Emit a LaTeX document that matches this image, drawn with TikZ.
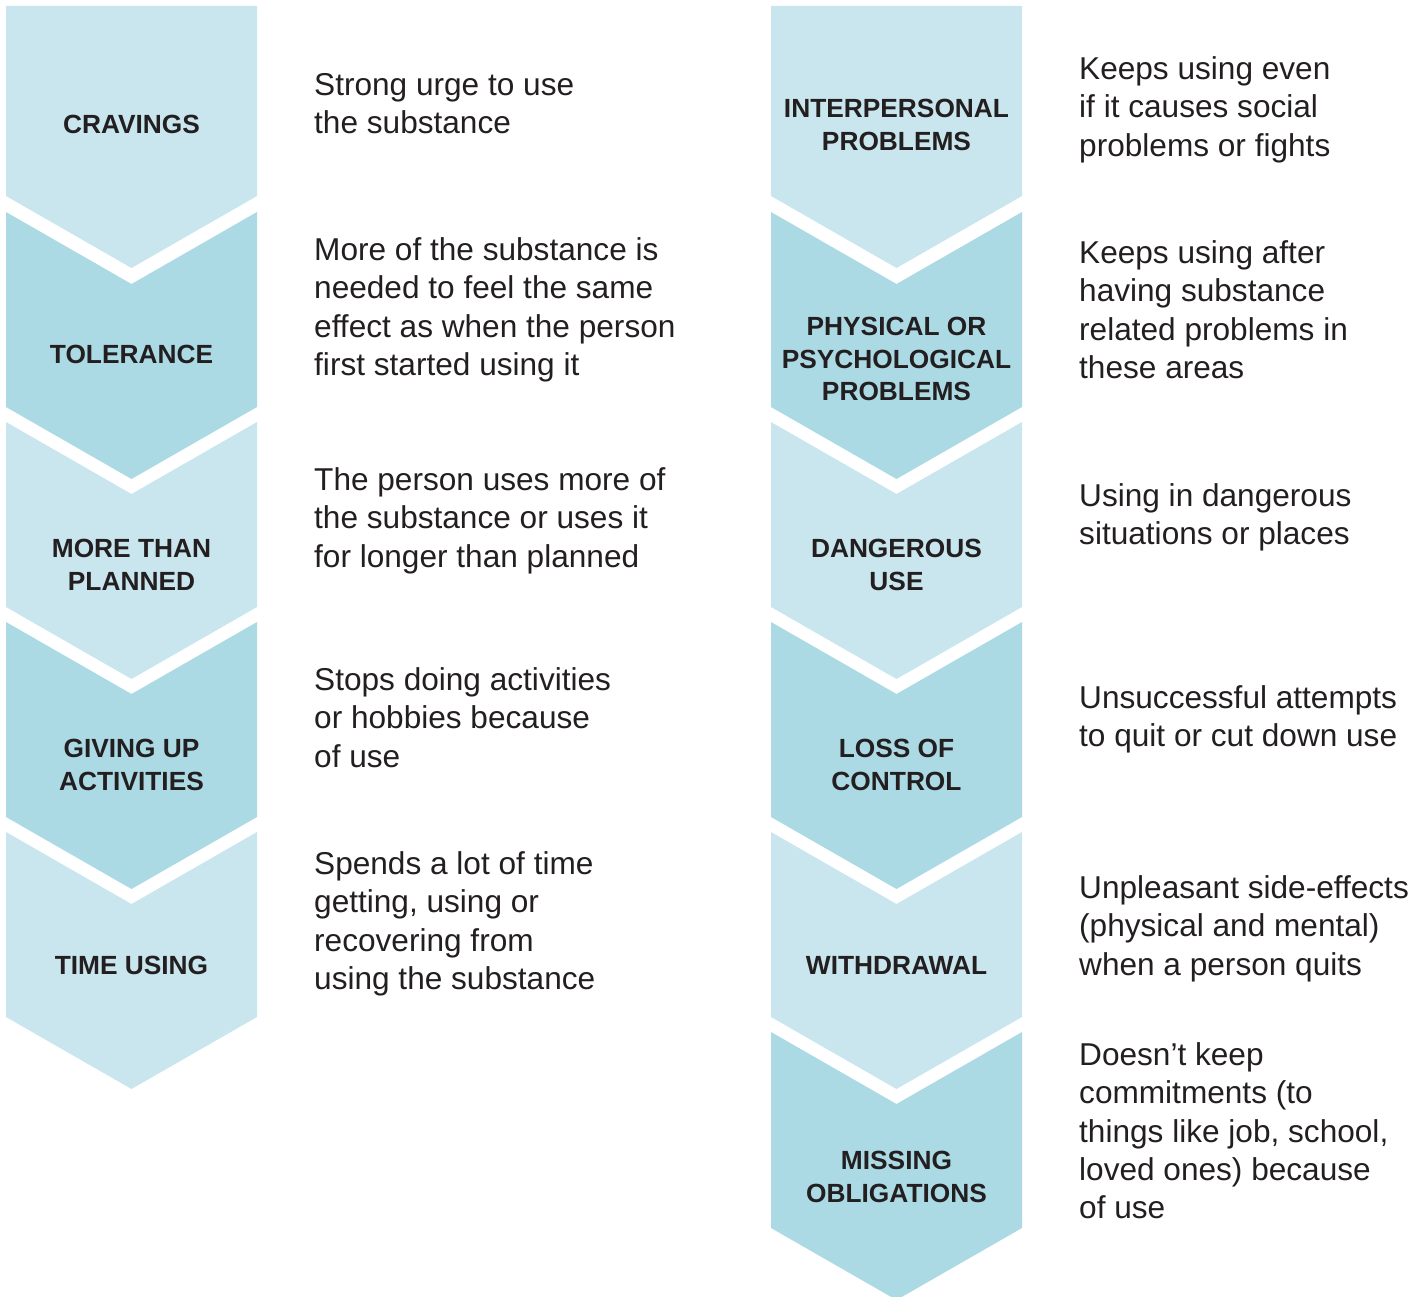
\documentclass[tikz,border=0pt]{standalone}
\usepackage{fontspec}
\setmainfont{Liberation Sans}
\definecolor{chevlight}{HTML}{C9E6EE}
\definecolor{chevdark}{HTML}{ABDAE5}
\definecolor{ink}{HTML}{231F20}
\tikzset{
  chevlabel/.style={font=\fontsize{26.3}{32.5}\selectfont\bfseries, text=ink, align=center, inner sep=0pt, anchor=center},
  desc/.style={font=\fontsize{31.6}{38.3}\selectfont, text=ink, align=left, inner sep=0pt, anchor=base west},
  lightfill/.style={fill=chevlight},
  darkfill/.style={fill=chevdark}
}
% #1 left x, #2 top corner y, #3 bottom corner y, #4 fill style
\newcommand\notchchev[4]{%
  \fill[#4] ({#1},{#2}) -- ++(125.5,72) -- ++(125.5,-72) -- ({#1+251},{#3}) -- ({#1+125.5},{#3+72}) -- ({#1},{#3}) -- cycle;}
\newcommand\flatchev[4]{%
  \fill[#4] ({#1},{#2}) -- ({#1+251},{#2}) -- ({#1+251},{#3}) -- ({#1+125.5},{#3+72}) -- ({#1},{#3}) -- cycle;}
% the base anchor of a multi-line node is the baseline of its last line:
% first-line baseline + (lines-1)*38.3
\begin{document}
\begin{tikzpicture}[x=1pt,y=-1pt]
\useasboundingbox (0,0) rectangle (1424,1297);
% left column
\flatchev{6}{6}{196}{lightfill}
\notchchev{6}{212}{407}{darkfill}
\notchchev{6}{422}{607}{lightfill}
\notchchev{6}{622}{817}{darkfill}
\notchchev{6}{832}{1017}{lightfill}
% right column
\flatchev{771}{6}{196}{lightfill}
\notchchev{771}{212}{407}{darkfill}
\notchchev{771}{422}{607}{lightfill}
\notchchev{771}{622}{817}{darkfill}
\notchchev{771}{832}{1017}{lightfill}
\notchchev{771}{1032}{1228}{darkfill}
% left labels
\node[chevlabel] (l1) at (131.5,124.5) {CRAVINGS};
\node[chevlabel] (l2) at (131.5,354) {TOLERANCE};
\node[chevlabel] (l3) at (131.5,565) {MORE THAN\\PLANNED};
\node[chevlabel] (l4) at (131.5,765) {GIVING UP\\ACTIVITIES};
\node[chevlabel] (l5) at (131.5,965) {TIME USING};
% right labels
\node[chevlabel] (m1) at (896.5,125) {INTERPERSONAL\\PROBLEMS};
\node[chevlabel] (m2) at (896.5,359) {PHYSICAL OR\\PSYCHOLOGICAL\\PROBLEMS};
\node[chevlabel] (m3) at (896.5,565) {DANGEROUS\\USE};
\node[chevlabel] (m4) at (896.5,765) {LOSS OF\\CONTROL};
\node[chevlabel] (m5) at (896.5,965) {WITHDRAWAL};
\node[chevlabel] (m6) at (896.5,1177) {MISSING\\OBLIGATIONS};
% left descriptions
\node[desc] (d1) at (314,{95.5+1*38.3}) {Strong urge to use\\the substance};
\node[desc] (d2) at (314,{260.5+3*38.3}) {More of the substance is\\needed to feel the same\\effect as when the person\\first started using it};
\node[desc] (d3) at (314,{490.5+2*38.3}) {The person uses more of\\the substance or uses it\\for longer than planned};
\node[desc] (d4) at (314,{690.5+2*38.3}) {Stops doing activities\\or hobbies because\\of use};
\node[desc] (d5) at (314,{874.5+3*38.3}) {Spends a lot of time\\getting, using or\\recovering from\\using the substance};
% right descriptions
\node[desc] (r1) at (1079,{79.5+2*38.3}) {Keeps using even\\if it causes social\\problems or fights};
\node[desc] (r2) at (1079,{263.5+3*38.3}) {Keeps using after\\having substance\\related problems in\\these areas};
\node[desc] (r3) at (1079,{506.5+1*38.3}) {Using in dangerous\\situations or places};
\node[desc] (r4) at (1079,{708.5+1*38.3}) {Unsuccessful attempts\\to quit or cut down use};
\node[desc] (r5) at (1079,{898.5+2*38.3}) {Unpleasant side-effects\\(physical and mental)\\when a person quits};
\node[desc] (r6) at (1079,{1065.5+4*38.3}) {Doesn’t keep\\commitments (to\\things like job, school,\\loved ones) because\\of use};
\end{tikzpicture}
\end{document}
